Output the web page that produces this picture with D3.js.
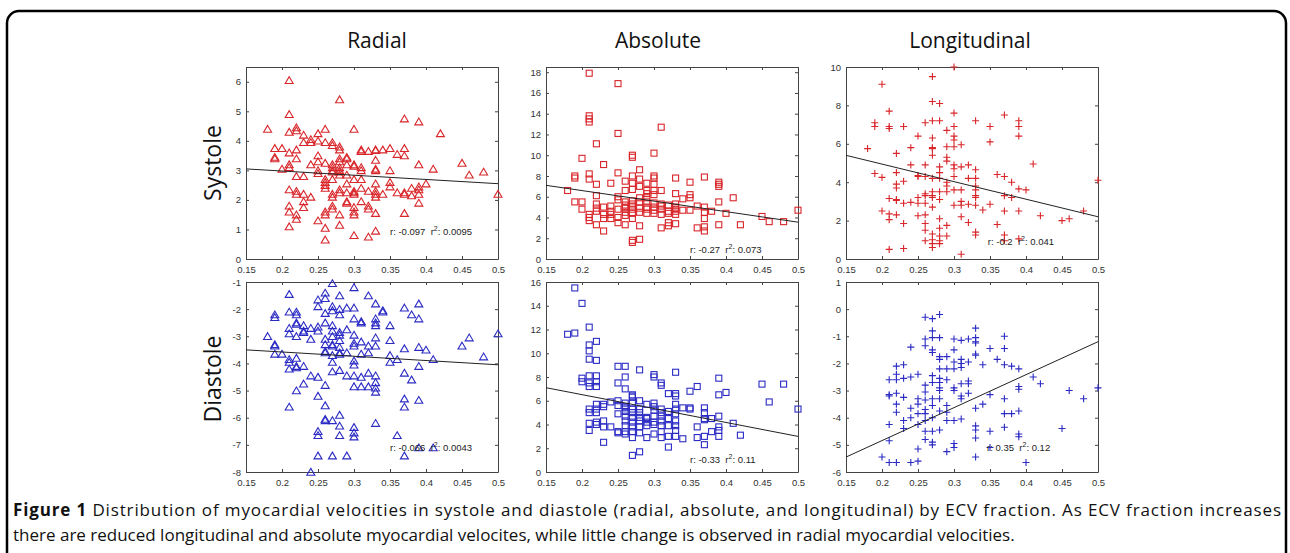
<!DOCTYPE html>
<html>
<head>
<meta charset="utf-8">
<script src="https://cdn.jsdelivr.net/npm/d3@7"></script>
<style>
body { margin: 0; background: #fff; }
svg { display: block; }
</style>
</head>
<body>
<svg id="fig" width="1290" height="553"></svg>
<script>
// column / row headers
var columns = ["Radial", "Absolute", "Longitudinal"];
var rows = ["Systole", "Diastole"];

// ECV fraction ticks, shared by all panels
var xTicks = [0.15, 0.2, 0.25, 0.3, 0.35, 0.4, 0.45, 0.5];

// y ticks of each panel
var yTicksRadSys = [0, 1, 2, 3, 4, 5, 6];
var yTicksAbsSys = [0, 2, 4, 6, 8, 10, 12, 14, 16, 18];
var yTicksLonSys = [0, 2, 4, 6, 8, 10];
var yTicksRadDia = [-8, -7, -6, -5, -4, -3, -2, -1];
var yTicksAbsDia = [0, 2, 4, 6, 8, 10, 12, 14, 16];
var yTicksLonDia = [-6, -5, -4, -3, -2, -1, 0, 1];

// [ECV fraction, velocity]
var radialSys = [[0.21,6.05],[0.28,5.4],[0.21,4.9],[0.37,4.75],[0.39,4.65],[0.18,4.4],[0.22,4.45],[0.22,4.35],[0.21,4.3],[0.26,4.4],[0.30,4.4],[0.42,4.25],[0.25,4.25],[0.23,4.2],[0.24,4.05],[0.23,3.95],[0.25,4.0],[0.24,3.95],[0.26,3.95],[0.27,3.95],[0.27,3.85],[0.28,3.8],[0.28,3.7],[0.19,3.75],[0.20,3.75],[0.22,3.7],[0.21,3.6],[0.31,3.65],[0.31,3.7],[0.32,3.65],[0.33,3.7],[0.33,3.68],[0.34,3.7],[0.35,3.75],[0.37,3.75],[0.37,3.5],[0.36,3.55],[0.19,3.45],[0.19,3.4],[0.22,3.4],[0.25,3.5],[0.28,3.4],[0.28,3.3],[0.29,3.45],[0.29,3.4],[0.33,3.35],[0.24,3.2],[0.25,3.3],[0.26,3.25],[0.27,3.2],[0.27,3.1],[0.27,3.0],[0.27,2.95],[0.28,3.1],[0.28,3.0],[0.29,3.2],[0.30,3.2],[0.30,3.15],[0.31,3.1],[0.31,3.0],[0.33,3.05],[0.33,3.0],[0.35,3.0],[0.39,3.2],[0.41,3.05],[0.45,3.25],[0.48,2.95],[0.46,2.85],[0.20,3.05],[0.21,3.2],[0.21,3.1],[0.22,2.8],[0.23,2.8],[0.25,3.0],[0.25,2.9],[0.26,2.7],[0.26,2.6],[0.26,2.5],[0.26,2.4],[0.27,2.7],[0.28,2.95],[0.28,2.85],[0.29,2.85],[0.29,2.55],[0.30,2.7],[0.31,2.7],[0.33,2.55],[0.35,2.6],[0.35,2.45],[0.40,2.55],[0.38,2.4],[0.39,2.45],[0.39,2.35],[0.39,2.2],[0.36,2.25],[0.37,2.2],[0.37,2.25],[0.38,2.15],[0.50,2.2],[0.21,2.35],[0.22,2.3],[0.22,2.2],[0.23,2.2],[0.24,2.1],[0.27,2.2],[0.27,2.1],[0.28,2.25],[0.28,2.35],[0.29,2.25],[0.30,2.3],[0.30,2.25],[0.30,2.2],[0.31,2.4],[0.32,2.3],[0.33,2.3],[0.33,2.2],[0.33,2.1],[0.34,2.2],[0.23,1.95],[0.31,1.95],[0.29,1.9],[0.29,1.95],[0.39,1.9],[0.21,1.8],[0.23,1.75],[0.27,1.8],[0.27,1.7],[0.30,1.75],[0.30,1.6],[0.30,1.5],[0.32,1.8],[0.32,1.7],[0.21,1.6],[0.22,1.5],[0.22,1.35],[0.26,1.6],[0.26,1.5],[0.28,1.5],[0.33,1.55],[0.37,1.55],[0.25,1.3],[0.21,1.1],[0.28,1.15],[0.26,1.05],[0.30,0.8],[0.32,0.75],[0.33,0.95],[0.26,0.65]];

var absoluteSys = [[0.21,17.9],[0.25,16.9],[0.21,13.8],[0.21,13.2],[0.21,13.5],[0.31,12.7],[0.25,12.1],[0.22,11.1],[0.30,10.2],[0.27,10.0],[0.27,9.8],[0.20,9.7],[0.23,9.1],[0.28,8.6],[0.25,8.3],[0.21,8.2],[0.21,7.7],[0.19,8.0],[0.19,7.8],[0.27,8.0],[0.27,7.3],[0.30,8.0],[0.30,7.8],[0.33,7.8],[0.37,7.9],[0.39,7.4],[0.39,7.2],[0.39,7.0],[0.35,7.4],[0.26,7.5],[0.24,7.3],[0.22,7.2],[0.28,7.7],[0.28,7.0],[0.29,7.3],[0.30,7.2],[0.18,6.6],[0.26,6.6],[0.27,6.7],[0.29,6.6],[0.29,6.3],[0.30,6.6],[0.30,6.2],[0.31,6.6],[0.33,6.3],[0.35,6.2],[0.35,5.9],[0.34,5.8],[0.41,5.9],[0.22,6.1],[0.25,6.0],[0.25,5.7],[0.28,5.9],[0.28,5.5],[0.26,5.5],[0.26,5.2],[0.27,5.6],[0.27,5.1],[0.29,5.9],[0.29,5.5],[0.31,5.1],[0.32,5.2],[0.33,5.3],[0.33,5.0],[0.19,5.5],[0.20,5.5],[0.20,4.8],[0.21,4.3],[0.21,4.0],[0.21,3.7],[0.22,5.3],[0.22,4.9],[0.22,4.6],[0.23,5.0],[0.23,4.3],[0.23,3.9],[0.24,5.1],[0.24,4.3],[0.24,3.9],[0.25,4.8],[0.25,4.0],[0.25,3.5],[0.26,4.9],[0.26,4.2],[0.26,3.3],[0.27,4.8],[0.27,4.4],[0.27,3.9],[0.28,4.9],[0.28,4.5],[0.28,3.2],[0.29,5.0],[0.29,4.4],[0.30,5.0],[0.30,4.7],[0.30,4.4],[0.31,4.8],[0.31,4.3],[0.31,3.0],[0.32,4.6],[0.32,3.5],[0.32,3.2],[0.33,4.8],[0.33,4.3],[0.33,3.4],[0.34,4.7],[0.35,4.7],[0.36,5.1],[0.36,3.0],[0.37,5.0],[0.37,4.5],[0.37,3.9],[0.37,3.1],[0.37,2.7],[0.38,4.6],[0.39,5.5],[0.39,3.3],[0.40,4.4],[0.42,3.3],[0.45,4.1],[0.46,3.6],[0.48,3.6],[0.50,4.7],[0.22,3.3],[0.23,2.7],[0.27,1.8],[0.27,1.6],[0.28,1.9],[0.26,5.0],[0.27,5.3],[0.29,4.8],[0.30,5.4],[0.31,5.3],[0.32,4.4],[0.33,4.6],[0.24,4.6],[0.26,4.5]];

var longitudinalSys = [[0.30,10.0],[0.27,9.5],[0.20,9.1],[0.27,8.2],[0.28,8.1],[0.21,7.7],[0.30,7.6],[0.37,7.5],[0.33,7.2],[0.39,7.2],[0.39,6.9],[0.19,7.1],[0.19,6.9],[0.26,7.1],[0.27,7.2],[0.28,7.2],[0.21,6.8],[0.21,6.9],[0.23,6.9],[0.30,6.9],[0.35,6.9],[0.29,6.7],[0.39,6.4],[0.25,6.4],[0.27,6.3],[0.30,6.4],[0.30,6.2],[0.35,6.1],[0.31,5.95],[0.27,5.8],[0.27,5.75],[0.27,5.4],[0.29,5.85],[0.30,5.85],[0.24,5.8],[0.18,5.75],[0.22,5.5],[0.29,5.3],[0.29,5.1],[0.41,4.95],[0.24,4.9],[0.26,4.9],[0.28,4.8],[0.30,4.9],[0.30,4.7],[0.31,4.8],[0.32,4.9],[0.33,4.65],[0.19,4.45],[0.22,4.5],[0.28,4.5],[0.25,4.3],[0.25,4.35],[0.26,4.3],[0.20,4.25],[0.36,4.4],[0.37,4.3],[0.32,4.2],[0.33,4.2],[0.27,4.2],[0.28,4.2],[0.30,4.3],[0.29,4.0],[0.29,3.8],[0.22,3.9],[0.22,3.7],[0.23,4.05],[0.33,3.8],[0.33,3.6],[0.38,4.0],[0.39,3.65],[0.40,3.6],[0.50,4.1],[0.27,3.5],[0.27,3.3],[0.27,3.2],[0.26,3.4],[0.26,3.3],[0.28,3.5],[0.28,3.1],[0.29,3.5],[0.30,3.6],[0.31,3.6],[0.33,3.3],[0.33,3.2],[0.37,3.3],[0.38,3.2],[0.21,3.15],[0.22,3.1],[0.22,3.05],[0.25,3.2],[0.25,2.9],[0.24,2.95],[0.23,2.9],[0.26,2.9],[0.27,2.7],[0.31,3.0],[0.31,2.8],[0.32,2.85],[0.33,2.8],[0.30,2.8],[0.34,2.55],[0.35,2.85],[0.20,2.5],[0.21,2.35],[0.21,2.05],[0.22,2.3],[0.25,2.25],[0.26,2.3],[0.31,2.2],[0.37,2.5],[0.39,2.5],[0.42,2.25],[0.45,2.0],[0.46,2.1],[0.48,2.5],[0.23,1.85],[0.26,1.85],[0.28,2.1],[0.29,1.75],[0.32,1.9],[0.36,1.8],[0.26,1.5],[0.28,1.6],[0.27,1.3],[0.33,1.4],[0.33,1.25],[0.37,1.25],[0.26,0.95],[0.27,1.0],[0.27,0.8],[0.27,0.6],[0.28,0.95],[0.28,0.8],[0.28,1.2],[0.29,1.2],[0.39,1.05],[0.37,0.95],[0.21,0.5],[0.23,0.55],[0.31,0.25]];

var radialDia = [[0.27,-1.05],[0.30,-1.2],[0.21,-1.45],[0.26,-1.4],[0.28,-1.5],[0.32,-1.5],[0.26,-1.6],[0.25,-1.65],[0.25,-1.9],[0.33,-1.8],[0.39,-1.8],[0.37,-1.95],[0.26,-2.15],[0.27,-1.9],[0.27,-2.05],[0.29,-1.95],[0.30,-1.95],[0.28,-2.0],[0.28,-2.2],[0.34,-2.1],[0.34,-2.05],[0.19,-2.2],[0.19,-2.3],[0.21,-2.1],[0.22,-2.1],[0.22,-2.2],[0.38,-2.2],[0.39,-2.35],[0.30,-2.35],[0.33,-2.35],[0.33,-2.5],[0.33,-2.6],[0.31,-2.5],[0.31,-2.45],[0.26,-2.5],[0.22,-2.5],[0.22,-2.55],[0.23,-2.6],[0.25,-2.65],[0.24,-2.7],[0.35,-2.6],[0.21,-2.7],[0.21,-2.9],[0.23,-2.8],[0.23,-2.85],[0.27,-2.6],[0.27,-2.8],[0.28,-2.85],[0.28,-2.95],[0.29,-2.75],[0.30,-2.95],[0.22,-3.0],[0.24,-3.1],[0.25,-2.8],[0.18,-3.0],[0.19,-3.3],[0.19,-3.35],[0.27,-3.0],[0.27,-3.3],[0.26,-3.1],[0.26,-3.3],[0.28,-3.15],[0.28,-3.4],[0.30,-3.25],[0.30,-3.35],[0.31,-3.2],[0.32,-3.35],[0.33,-3.05],[0.33,-3.35],[0.35,-3.15],[0.37,-3.45],[0.39,-3.4],[0.40,-3.5],[0.45,-3.35],[0.46,-3.05],[0.48,-3.75],[0.50,-2.9],[0.19,-3.65],[0.20,-3.65],[0.21,-3.85],[0.21,-3.95],[0.21,-4.2],[0.22,-3.8],[0.22,-4.1],[0.22,-4.15],[0.23,-4.1],[0.26,-3.6],[0.26,-3.55],[0.27,-3.7],[0.27,-3.35],[0.28,-3.6],[0.28,-3.65],[0.29,-3.6],[0.31,-3.65],[0.30,-3.9],[0.32,-3.6],[0.35,-3.7],[0.35,-3.95],[0.36,-3.85],[0.41,-3.85],[0.39,-4.1],[0.27,-3.95],[0.30,-4.05],[0.27,-4.3],[0.28,-4.25],[0.24,-4.45],[0.25,-4.5],[0.26,-4.8],[0.29,-4.45],[0.30,-4.45],[0.31,-4.5],[0.32,-4.35],[0.33,-4.45],[0.33,-4.7],[0.33,-4.9],[0.33,-5.05],[0.30,-4.85],[0.31,-4.85],[0.32,-4.85],[0.37,-4.35],[0.38,-4.6],[0.23,-4.75],[0.22,-5.0],[0.25,-5.2],[0.37,-5.3],[0.37,-5.6],[0.39,-5.35],[0.21,-5.6],[0.26,-5.55],[0.26,-6.05],[0.26,-6.1],[0.27,-6.1],[0.28,-5.9],[0.28,-6.3],[0.28,-6.65],[0.33,-6.2],[0.25,-6.5],[0.25,-6.65],[0.30,-6.35],[0.30,-6.55],[0.30,-6.7],[0.36,-6.65],[0.25,-7.4],[0.27,-7.4],[0.29,-7.4],[0.37,-7.4],[0.24,-8.0],[0.39,-7.1],[0.41,-7.1]];

var absoluteDia = [[0.19,15.5],[0.20,14.2],[0.21,12.2],[0.18,11.6],[0.19,11.7],[0.22,11.0],[0.21,10.7],[0.21,10.2],[0.21,9.5],[0.22,9.4],[0.25,8.9],[0.26,8.9],[0.28,8.6],[0.30,8.2],[0.30,8.0],[0.33,8.4],[0.21,8.1],[0.22,8.1],[0.26,8.0],[0.39,7.9],[0.20,7.9],[0.20,7.6],[0.21,7.5],[0.21,7.2],[0.22,7.6],[0.22,7.2],[0.25,7.5],[0.31,7.5],[0.31,7.3],[0.36,7.2],[0.35,6.8],[0.45,7.4],[0.48,7.4],[0.40,6.7],[0.26,7.0],[0.32,6.6],[0.33,6.6],[0.33,6.4],[0.39,6.5],[0.27,6.5],[0.27,6.3],[0.28,6.0],[0.24,5.9],[0.25,6.0],[0.21,5.3],[0.21,5.0],[0.22,5.7],[0.22,5.3],[0.22,5.0],[0.23,5.7],[0.23,5.5],[0.26,5.8],[0.26,5.5],[0.26,5.1],[0.27,6.4],[0.27,5.8],[0.27,5.3],[0.28,5.3],[0.28,5.0],[0.29,5.7],[0.29,4.6],[0.30,5.8],[0.30,5.5],[0.30,5.2],[0.31,5.3],[0.31,5.0],[0.32,5.1],[0.33,5.7],[0.33,5.3],[0.33,4.9],[0.34,5.4],[0.35,5.4],[0.35,5.3],[0.37,5.4],[0.37,5.0],[0.50,5.3],[0.46,5.9],[0.38,4.5],[0.37,4.4],[0.37,4.5],[0.39,4.7],[0.41,4.1],[0.21,4.1],[0.22,4.0],[0.22,4.2],[0.23,4.3],[0.23,3.8],[0.25,4.9],[0.27,4.6],[0.27,4.2],[0.27,3.8],[0.27,3.4],[0.26,4.3],[0.26,3.9],[0.26,3.4],[0.26,3.2],[0.28,4.3],[0.28,3.8],[0.28,3.3],[0.29,4.5],[0.29,3.9],[0.29,2.9],[0.30,4.2],[0.30,4.7],[0.30,3.2],[0.31,4.3],[0.31,3.9],[0.31,3.4],[0.31,2.9],[0.32,4.5],[0.32,3.9],[0.32,3.0],[0.33,4.3],[0.33,3.9],[0.33,3.5],[0.33,3.0],[0.34,2.8],[0.36,3.8],[0.38,3.4],[0.39,3.8],[0.39,3.5],[0.39,3.0],[0.36,2.9],[0.37,3.0],[0.37,2.3],[0.21,3.5],[0.25,3.4],[0.25,3.3],[0.24,3.8],[0.23,2.5],[0.42,3.1],[0.32,2.1],[0.27,2.9],[0.28,1.7],[0.27,1.4],[0.26,4.7],[0.27,5.0],[0.28,4.6],[0.29,4.2],[0.30,4.0],[0.31,4.7],[0.26,5.4],[0.25,5.6]];

var longitudinalDia = [[0.26,-0.3],[0.27,-0.35],[0.28,-0.2],[0.33,-0.7],[0.27,-0.8],[0.26,-1.1],[0.27,-1.05],[0.28,-1.05],[0.30,-1.1],[0.31,-1.15],[0.32,-1.1],[0.33,-1.05],[0.33,-1.2],[0.33,-1.25],[0.37,-1.0],[0.26,-1.35],[0.24,-1.4],[0.27,-1.5],[0.27,-1.6],[0.28,-1.75],[0.28,-1.85],[0.29,-1.75],[0.30,-1.5],[0.33,-1.65],[0.33,-1.7],[0.35,-1.45],[0.37,-1.45],[0.31,-1.85],[0.31,-2.0],[0.30,-1.95],[0.32,-1.95],[0.36,-1.85],[0.28,-2.2],[0.29,-2.2],[0.30,-2.2],[0.31,-2.15],[0.34,-2.05],[0.37,-2.05],[0.38,-2.1],[0.39,-2.2],[0.22,-2.1],[0.23,-2.05],[0.22,-2.4],[0.21,-2.6],[0.22,-2.6],[0.23,-2.55],[0.24,-2.5],[0.25,-2.4],[0.27,-2.45],[0.28,-2.55],[0.26,-2.8],[0.27,-2.7],[0.28,-2.7],[0.28,-2.9],[0.29,-2.6],[0.31,-2.75],[0.32,-2.65],[0.32,-2.75],[0.30,-2.9],[0.30,-3.0],[0.26,-3.05],[0.21,-3.15],[0.21,-3.2],[0.22,-3.1],[0.23,-3.25],[0.27,-3.3],[0.28,-3.0],[0.31,-3.2],[0.31,-3.3],[0.32,-3.1],[0.35,-3.15],[0.37,-3.3],[0.39,-2.85],[0.39,-2.95],[0.41,-2.5],[0.42,-2.75],[0.46,-3.0],[0.48,-3.3],[0.50,-2.9],[0.22,-3.5],[0.25,-3.5],[0.25,-3.3],[0.26,-3.35],[0.24,-3.65],[0.27,-3.55],[0.28,-3.3],[0.29,-3.55],[0.33,-3.65],[0.34,-3.5],[0.22,-3.8],[0.23,-4.1],[0.24,-4.0],[0.25,-3.85],[0.26,-3.7],[0.26,-3.85],[0.26,-4.1],[0.27,-4.0],[0.28,-3.75],[0.29,-3.8],[0.29,-4.1],[0.30,-4.1],[0.31,-4.05],[0.37,-3.85],[0.38,-3.85],[0.39,-3.75],[0.21,-4.25],[0.23,-4.4],[0.25,-4.25],[0.26,-4.5],[0.27,-4.5],[0.28,-4.45],[0.33,-4.3],[0.33,-4.45],[0.33,-4.75],[0.35,-4.5],[0.37,-4.35],[0.39,-4.6],[0.39,-4.7],[0.45,-4.4],[0.21,-4.85],[0.26,-4.8],[0.27,-4.9],[0.27,-5.0],[0.30,-4.95],[0.30,-5.1],[0.25,-5.15],[0.29,-5.25],[0.35,-5.1],[0.20,-5.45],[0.21,-5.65],[0.22,-5.65],[0.24,-5.65],[0.25,-5.6],[0.33,-5.45],[0.40,-5.65]];

// regression line: velocity at ECV 0.15 and at 0.5
var fitRadSys = [3.05, 2.55];
var fitAbsSys = [7.1, 3.55];
var fitLonSys = [5.4, 2.2];
var fitRadDia = [-3.5, -4.05];
var fitAbsDia = [7.1, 3.0];
var fitLonDia = [-5.45, -1.2];

// r and r^2
var statR = ["-0.097", "-0.27", "-0.2", "-0.066", "-0.33", "0.35"];
var statR2 = ["0.0095", "0.073", "0.041", "0.0043", "0.11", "0.12"];

var red = "#d8262a", blue = "#2b2bc4";

var panels = [
  {col: 0, row: 0, data: radialSys, yDomain: [0, 6.5], yTicks: yTicksRadSys, fit: fitRadSys, mark: "tri", color: red, stat: 0, statAt: [0.35, 0.82]},
  {col: 1, row: 0, data: absoluteSys, yDomain: [0, 18.5], yTicks: yTicksAbsSys, fit: fitAbsSys, mark: "sq", color: red, stat: 1, statAt: [0.35, 0.62]},
  {col: 2, row: 0, data: longitudinalSys, yDomain: [0, 10], yTicks: yTicksLonSys, fit: fitLonSys, mark: "plus", color: red, stat: 2, statAt: [0.347, 0.72]},
  {col: 0, row: 1, data: radialDia, yDomain: [-8, -1], yTicks: yTicksRadDia, fit: fitRadDia, mark: "tri", color: blue, stat: 3, statAt: [0.35, -7.22]},
  {col: 1, row: 1, data: absoluteDia, yDomain: [0, 16], yTicks: yTicksAbsDia, fit: fitAbsDia, mark: "sq", color: blue, stat: 4, statAt: [0.35, 0.72]},
  {col: 2, row: 1, data: longitudinalDia, yDomain: [-6, 1], yTicks: yTicksLonDia, fit: fitLonDia, mark: "plus", color: blue, stat: 5, statAt: [0.346, -5.24]}
];

var colLeft = [246, 546, 846], pw = 252;
var rowTop = [67, 282], ph = [192, 190];

var svg = d3.select("#fig");

// outer frame
svg.append("rect")
    .attr("x", 7).attr("y", 11)
    .attr("width", 1279).attr("height", 580)
    .attr("rx", 12)
    .attr("fill", "none").attr("stroke", "#000").attr("stroke-width", 2.5);

// headers
var colCenter = [377, 658, 970];
columns.forEach(function(c, i) {
    svg.append("text")
        .attr("x", colCenter[i]).attr("y", 48)
        .attr("text-anchor", "middle")
        .style("font-family", "'Open Sans', sans-serif")
        .style("font-size", "21px")
        .attr("fill", "#111")
        .text(c);
});
var rowCenter = [163, 379];
rows.forEach(function(r, i) {
    svg.append("text")
        .attr("transform", "translate(221," + rowCenter[i] + ") rotate(-90)")
        .attr("text-anchor", "middle")
        .style("font-family", "'Open Sans', sans-serif")
        .style("font-size", "23px")
        .attr("fill", "#111")
        .text(r);
});

var tri = "M0,-3.6L4,3.2L-4,3.2Z";
var fmt = function(d) { return String(+d.toFixed(2)); };

panels.forEach(function(p) {
    var g = svg.append("g")
        .attr("transform", "translate(" + colLeft[p.col] + "," + rowTop[p.row] + ")");
    var h = ph[p.row];

    var x = d3.scaleLinear().domain([0.15, 0.5]).range([0, pw]);
    var y = d3.scaleLinear().domain(p.yDomain).range([h, 0]);

    // axes with inward ticks, mirrored on top/right
    g.append("g").attr("transform", "translate(0," + h + ")")
        .call(d3.axisBottom(x).tickValues(xTicks).tickSizeInner(-3).tickSizeOuter(0).tickPadding(7).tickFormat(fmt));
    g.append("g")
        .call(d3.axisLeft(y).tickValues(p.yTicks).tickSizeInner(-3).tickSizeOuter(0).tickPadding(5).tickFormat(fmt));
    g.append("g").call(d3.axisTop(x).tickValues(xTicks).tickSizeInner(-3).tickSizeOuter(0).tickFormat(""));
    g.append("g").attr("transform", "translate(" + pw + ",0)")
        .call(d3.axisRight(y).tickValues(p.yTicks).tickSizeInner(-3).tickSizeOuter(0).tickFormat(""));
    g.selectAll(".domain").attr("stroke", "#444");
    g.selectAll(".tick line").attr("stroke", "#444");
    g.selectAll(".tick text")
        .style("font-family", "'Liberation Sans', Arial, sans-serif")
        .style("font-size", "9.5px")
        .attr("fill", "#333");

    // points
    var pts = g.append("g").attr("fill", "none").attr("stroke", p.color).attr("stroke-width", 1.1);
    if (p.mark === "tri") {
        pts.selectAll("path").data(p.data).enter().append("path")
            .attr("d", tri)
            .attr("transform", function(d) { return "translate(" + x(d[0]) + "," + y(d[1]) + ")"; });
    } else if (p.mark === "sq") {
        pts.selectAll("rect").data(p.data).enter().append("rect")
            .attr("x", function(d) { return x(d[0]) - 3; })
            .attr("y", function(d) { return y(d[1]) - 3; })
            .attr("width", 6).attr("height", 6);
    } else {
        pts.selectAll("path").data(p.data).enter().append("path")
            .attr("d", "M-3.5,0H3.5M0,-3.5V3.5")
            .attr("transform", function(d) { return "translate(" + x(d[0]) + "," + y(d[1]) + ")"; });
    }

    // regression line
    g.append("line")
        .attr("x1", x(0.15)).attr("y1", y(p.fit[0]))
        .attr("x2", x(0.5)).attr("y2", y(p.fit[1]))
        .attr("stroke", "#222").attr("stroke-width", 1);

    // r / r^2
    var t = g.append("text")
        .attr("x", x(p.statAt[0])).attr("y", y(p.statAt[1]))
        .style("font-family", "'Liberation Sans', Arial, sans-serif")
        .style("font-size", "9.5px")
        .attr("fill", "#222");
    t.append("tspan").text("r: " + statR[p.stat] + "\u00a0\u00a0r");
    t.append("tspan").attr("dy", -4).style("font-size", "7px").text("2");
    t.append("tspan").attr("dy", 4).text(": " + statR2[p.stat]);
});

// caption
var cap1a = "Figure 1";
var cap1b = " Distribution of myocardial velocities in systole and diastole (radial, absolute, and longitudinal) by ECV fraction. As ECV fraction increases";
var cap2 = "there are reduced longitudinal and absolute myocardial velocites, while little change is observed in radial myocardial velocities.";

var c1 = svg.append("text")
    .attr("x", 13).attr("y", 516)
    .attr("textLength", 1268).attr("lengthAdjust", "spacing")
    .style("font-family", "'Open Sans', sans-serif")
    .style("font-size", "17px")
    .attr("fill", "#111");
c1.append("tspan").style("font-weight", "bold").text(cap1a);
c1.append("tspan").text(cap1b);
svg.append("text")
    .attr("x", 13).attr("y", 541)
    .style("font-family", "'Open Sans', sans-serif")
    .style("font-size", "17px")
    .attr("fill", "#111")
    .text(cap2);
</script>
</body>
</html>
